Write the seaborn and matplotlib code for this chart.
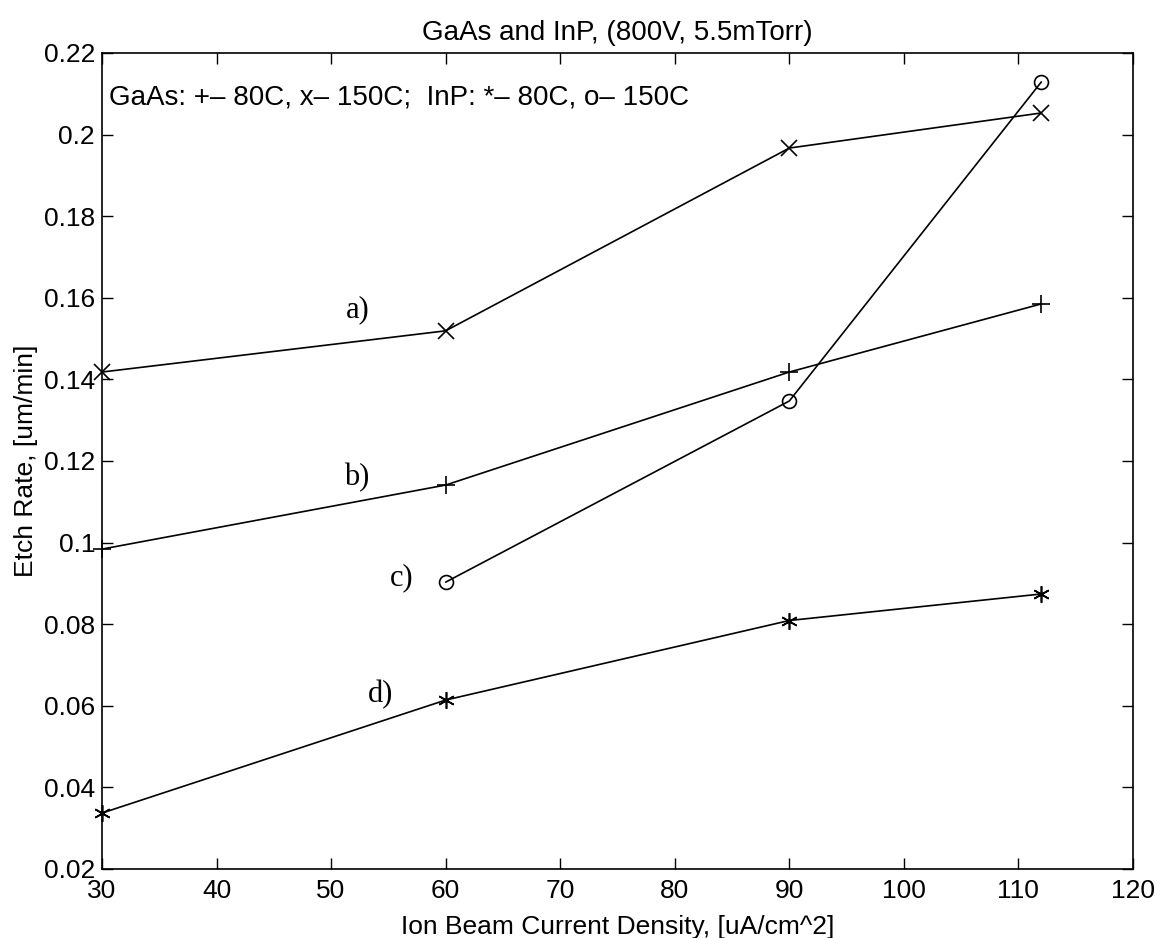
import numpy as np
import pandas as pd
import matplotlib
matplotlib.use("Agg")
import matplotlib.pyplot as plt
import seaborn as sns

# data
current_density = [30, 60, 90, 112]
gaas_150c = [0.1418, 0.1519, 0.1967, 0.2053]   # a) x
gaas_80c = [0.0984, 0.1141, 0.1418, 0.1585]    # b) +
inp_150c_x = [60, 90, 112]
inp_150c = [0.0903, 0.1347, 0.2129]            # c) o
inp_80c = [0.0337, 0.0614, 0.0809, 0.0874]     # d) *

curve_labels = ["a)", "b)", "c)", "d)"]
label_x = [52.3, 52.2, 56.2, 54.3]
label_y = [0.157, 0.116, 0.0915, 0.0628]

sns.set_style("ticks")
plt.rcParams["font.family"] = ["Liberation Sans", "DejaVu Sans"]
plt.rcParams["text.color"] = "black"
plt.rcParams["axes.labelcolor"] = "black"
FS = 19

fig = plt.figure(figsize=(11.6, 9.38), dpi=100)
ax = fig.add_axes([0.0879, 0.0736, 0.9767 - 0.0879, 0.9435 - 0.0736])

asterisk = (6, 2, 0)
series = [
    (current_density, gaas_150c, "x", 11, "black"),
    (current_density, gaas_80c, "+", 13, "black"),
    (inp_150c_x, inp_150c, "o", 10, "none"),
    (current_density, inp_80c, asterisk, 12, "black"),
]
for xs, ys, mk, ms, fc in series:
    df = pd.DataFrame({"x": xs, "y": ys})
    sns.lineplot(data=df, x="x", y="y", ax=ax, color="black", linewidth=1.2,
                 marker=mk, markersize=ms, markerfacecolor=fc,
                 markeredgecolor="black", markeredgewidth=1.2, clip_on=False)

for lab, lx, ly in zip(curve_labels, label_x, label_y):
    ax.text(lx, ly, lab, family="Liberation Serif", fontsize=22,
            ha="center", va="center", color="black")

ax.text(30.6, 0.209, "GaAs: +\u2013 80C, x\u2013 150C;  InP: *\u2013 80C, o\u2013 150C",
        fontsize=20, ha="left", va="center", color="black")

ax.set_xlim(30, 120)
ax.set_ylim(0.02, 0.22)
ax.set_xticks(np.arange(30, 121, 10))
ax.set_yticks(np.round(np.arange(0.02, 0.221, 0.02), 2))
ax.set_yticklabels(["0.02", "0.04", "0.06", "0.08", "0.1", "0.12",
                    "0.14", "0.16", "0.18", "0.2", "0.22"])
ax.tick_params(direction="in", length=8, width=1, top=True, right=True,
               labelsize=FS, colors="black")
ax.tick_params(axis="x", pad=7)
ax.tick_params(axis="y", pad=5)
for sp in ax.spines.values():
    sp.set_visible(True)
    sp.set_linewidth(1.2)
    sp.set_color("black")

ax.set_title("GaAs and InP, (800V, 5.5mTorr)", fontsize=20, pad=9, color="black")
ax.set_xlabel("Ion Beam Current Density, [uA/cm^2]", fontsize=FS, labelpad=9)
ax.set_ylabel("Etch Rate, [um/min]", fontsize=FS, labelpad=4)

fig.savefig("out.png", dpi=100)
